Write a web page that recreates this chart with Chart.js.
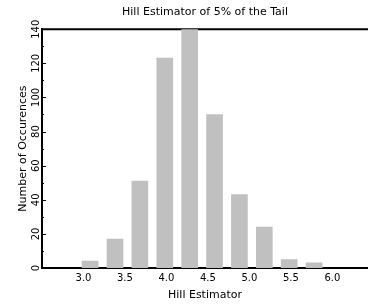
<!DOCTYPE html>
<html>
<head>
<meta charset="utf-8">
<script src="https://cdn.jsdelivr.net/npm/chart.js@4"></script>
<style>
  html, body { margin: 0; padding: 0; background: #fff; }
  #wrap { width: 368px; height: 308px; }
</style>
</head>
<body>
<div id="wrap"><canvas id="chart"></canvas></div>
<script>
// histogram of the Hill estimator (bin centres and counts)
const binCenters = [3.08, 3.38, 3.68, 3.98, 4.28, 4.58, 4.88, 5.18, 5.48, 5.78];
const counts = [4, 17, 51, 123, 140, 90, 43, 24, 5, 3];
const xTickLabels = ["3.0", "3.5", "4.0", "4.5", "5.0", "5.5", "6.0"];
const yMinorStep = 10;

const FONT = "'DejaVu Sans', sans-serif";

// top frame line and small inward ticks on the y axis
const frame = {
  id: "frame",
  beforeDatasetsDraw(chart) {
    const { ctx, chartArea, scales } = chart;
    ctx.save();
    ctx.strokeStyle = "#000";
    ctx.lineWidth = 2;
    ctx.beginPath();
    ctx.moveTo(chartArea.left - 1, chartArea.top);
    ctx.lineTo(chartArea.right, chartArea.top);
    ctx.stroke();
    ctx.lineWidth = 1;
    for (let v = scales.y.min; v <= scales.y.max; v += yMinorStep) {
      const y = Math.round(scales.y.getPixelForValue(v)) + 0.5;
      const len = v % 20 === 0 ? 4 : 2;
      ctx.beginPath();
      ctx.moveTo(chartArea.left, y);
      ctx.lineTo(chartArea.left + len, y);
      ctx.stroke();
    }
    ctx.restore();
  }
};

new Chart(document.getElementById("chart"), {
  type: "bar",
  data: {
    datasets: [{
      data: binCenters.map((x, i) => ({ x: x, y: counts[i] })),
      backgroundColor: "#c0c0c0",
      borderWidth: 0,
      barThickness: 16
    }]
  },
  options: {
    responsive: true,
    maintainAspectRatio: false,
    animation: false,
    layout: { padding: 0, autoPadding: false },
    plugins: {
      legend: { display: false },
      tooltip: { enabled: false },
      title: {
        display: true,
        fullSize: false,
        text: "Hill Estimator of 5% of the Tail",
        color: "#000",
        font: { family: FONT, size: 11, weight: "normal" },
        padding: { top: 6, bottom: 10 }
      }
    },
    scales: {
      x: {
        type: "linear",
        offset: false,
        min: 2.5,
        max: 6.43,
        grid: { display: false, drawTicks: false, offset: false },
        border: { display: true, color: "#000", width: 2 },
        ticks: {
          stepSize: 0.5,
          padding: 4,
          color: "#000",
          font: { family: FONT, size: 10 },
          autoSkip: false,
          maxRotation: 0,
          callback: (v) => xTickLabels.includes(Number(v).toFixed(1)) ? Number(v).toFixed(1) : ""
        },
        title: {
          display: true,
          text: "Hill Estimator",
          color: "#000",
          font: { family: FONT, size: 11 },
          padding: { top: 0, bottom: 6 }
        },
        afterFit: (s) => { s.height = 40; s.paddingLeft = 0; s.paddingRight = 0; }
      },
      y: {
        min: 0,
        max: 140,
        grid: { display: false, drawTicks: false },
        border: { display: true, color: "#000", width: 2 },
        ticks: {
          stepSize: 20,
          minRotation: 90,
          maxRotation: 90,
          crossAlign: "center",
          padding: -4,
          color: "#000",
          font: { family: FONT, size: 10 }
        },
        title: {
          display: true,
          text: "Number of Occurences",
          color: "#000",
          font: { family: FONT, size: 11 },
          padding: { top: 17, bottom: 0 }
        },
        afterFit: (s) => { s.width = 42; s.paddingTop = 0; s.paddingBottom = 0; }
      }
    }
  },
  plugins: [frame]
});
</script>
</body>
</html>
